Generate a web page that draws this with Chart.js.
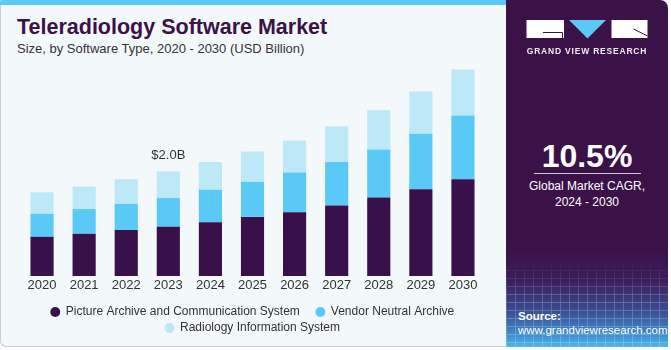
<!DOCTYPE html>
<html>
<head>
<meta charset="utf-8">
<script src="https://cdn.jsdelivr.net/npm/chart.js@4.4.1/dist/chart.umd.min.js"></script>
<style>
  html, body { margin:0; padding:0; background:#ffffff; }
  body { width:671px; height:350px; position:relative; overflow:hidden; font-family:"Liberation Sans", Arial, sans-serif; }
  #left { position:absolute; left:0; top:0; width:512px; height:346px; background:#f3f8fb;
          border-left:1px solid #c9cfd4; border-bottom:1px solid #c9cfd4; border-bottom-left-radius:6px; box-sizing:content-box; }
  #stripe { position:absolute; left:0; top:0; width:508px; height:5px; background:#5bc8f5; border-top-left-radius:3px; }
  #title { position:absolute; left:17px; top:17px; font-weight:bold; font-size:21.5px; line-height:1; color:#3a1248; white-space:nowrap; }
  #sub { position:absolute; left:17px; top:42px; font-size:13px; line-height:1; color:#333333; white-space:nowrap; }
  #chartWrap { position:absolute; left:0; top:0; width:506px; height:350px; }
  #panel { position:absolute; left:506px; top:0; width:162px; height:347px; border-top-right-radius:8px; overflow:hidden;
    background: linear-gradient(to bottom, #3a1248 0px, #3a1248 250px, #3b1d5c 280px, #3a4f93 312px, #3f8fcf 335px, #4fb6e6 347px); }
  #mesh { position:absolute; left:0; top:262px; width:162px; height:85px; opacity:0.28;
    background:
      repeating-linear-gradient(to bottom, rgba(255,255,255,0.7) 0px, rgba(255,255,255,0.7) 1px, transparent 1px, transparent 8px),
      repeating-linear-gradient(to right, rgba(255,255,255,0.7) 0px, rgba(255,255,255,0.7) 1px, transparent 1px, transparent 9px);
    -webkit-mask-image: linear-gradient(to bottom, transparent 0%, #000 40%);
    mask-image: linear-gradient(to bottom, transparent 0%, #000 40%); }
  #logo { position:absolute; left:20px; top:20px; }
  #gvr { position:absolute; left:0; width:162px; top:47px; text-align:center; color:#ffffff; font-weight:bold; font-size:8.5px; letter-spacing:0.8px; line-height:1; opacity:0.92; }
  #cagr { position:absolute; left:0; width:162px; top:140px; text-align:center; color:#ffffff; font-weight:bold; font-size:32px; line-height:1; }
  #rule { position:absolute; left:28px; width:107px; top:173px; height:1px; background:rgba(255,255,255,0.75); }
  #cagrTxt { position:absolute; left:0; width:162px; top:179px; text-align:center; color:#ffffff; font-size:12px; line-height:15.5px; }
  #src { position:absolute; left:12px; top:309px; color:#ffffff; font-size:11.5px; line-height:14px; }
</style>
</head>
<body>
<div id="left"></div>
<div id="stripe"></div>
<div id="title">Teleradiology Software Market</div>
<div id="sub">Size, by Software Type, 2020 - 2030 (USD Billion)</div>
<div id="chartWrap"><canvas id="c" width="506" height="350"></canvas></div>
<div id="panel">
  <div id="mesh"></div>
  <svg id="logo" width="124" height="20" viewBox="0 0 124 20">
    <rect x="0.5" y="0" width="37.5" height="18" fill="#ffffff"/>
    <path d="M17 12.5 H36.5 V18" stroke="#3a1248" stroke-width="1" fill="none"/>
    <polygon points="43,0 80,0 61.5,18.5" fill="#5bc8f5"/>
    <rect x="85.5" y="0" width="36" height="18" fill="#ffffff"/>
    <line x1="107.5" y1="9" x2="121.5" y2="16" stroke="#3a1248" stroke-width="1"/>
  </svg>
  <div id="gvr">GRAND VIEW RESEARCH</div>
  <div id="cagr">10.5%</div>
  <div id="rule"></div>
  <div id="cagrTxt">Global Market CAGR,<br>2024 - 2030</div>
  <div id="src"><b>Source:</b><br>www.grandviewresearch.com</div>
</div>
<script>
const years = ['2020','2021','2022','2023','2024','2025','2026','2027','2028','2029','2030'];
const seriesNames = ['Picture Archive and Communication System', 'Vendor Neutral Archive', 'Radiology Information System'];
const pacs = [0.75, 0.81, 0.88, 0.94, 1.03, 1.13, 1.22, 1.35, 1.50, 1.66, 1.85];
const vna  = [0.44, 0.47, 0.50, 0.55, 0.62, 0.67, 0.76, 0.83, 0.92, 1.06, 1.22];
const ris  = [0.41, 0.43, 0.47, 0.51, 0.53, 0.58, 0.61, 0.68, 0.75, 0.81, 0.88];
const annotatedYear = '2023';
const annotatedText = '$2.0B';
const colors = ['#38104a', '#5bc9f5', '#bde8f8'];

const annotatePlugin = {
  id: 'annotate',
  afterDatasetsDraw(chart) {
    const idx = years.indexOf(annotatedYear);
    const meta = chart.getDatasetMeta(2);
    const el = meta.data[idx];
    if (!el) return;
    const ctx = chart.ctx;
    ctx.save();
    ctx.font = '13px "Liberation Sans", Arial, sans-serif';
    ctx.fillStyle = '#333333';
    ctx.textAlign = 'center';
    ctx.textBaseline = 'middle';
    ctx.fillText(annotatedText, el.x, el.y - 16);
    ctx.restore();
  }
};

new Chart(document.getElementById('c'), {
  type: 'bar',
  data: {
    labels: years,
    datasets: [
      { label: seriesNames[0], data: pacs, backgroundColor: colors[0], borderWidth: 0 },
      { label: seriesNames[1], data: vna,  backgroundColor: colors[1], borderWidth: 0 },
      { label: seriesNames[2], data: ris,  backgroundColor: colors[2], borderWidth: 0 }
    ]
  },
  options: {
    responsive: false,
    animation: false,
    devicePixelRatio: 1,
    layout: { padding: { top: 60, left: 21, right: 22, bottom: 6 } },
    datasets: { bar: { categoryPercentage: 1, barPercentage: 0.55 } },
    scales: {
      x: {
        stacked: true,
        grid: { display: false, drawTicks: false },
        border: { display: false },
        ticks: { color: '#333333', font: { family: '"Liberation Sans", Arial, sans-serif', size: 13 }, padding: 2, maxRotation: 0, autoSkip: false },
        afterFit(scale) { scale.height = 26; }
      },
      y: { stacked: true, display: false, min: 0, max: 4.13 }
    },
    plugins: {
      tooltip: { enabled: false },
      legend: {
        position: 'bottom',
        labels: {
          usePointStyle: true,
          pointStyle: 'circle',
          boxWidth: 9,
          boxHeight: 7,
          padding: 4,
          color: '#333333',
          font: { family: '"Liberation Sans", Arial, sans-serif', size: 12 },
          generateLabels(chart) {
            const items = Chart.defaults.plugins.legend.labels.generateLabels(chart);
            items.forEach((it, i) => { it.lineWidth = 0; if (i === 0) it.text = it.text + '\u2002\u2002'; });
            return items;
          }
        }
      }
    }
  },
  plugins: [annotatePlugin]
});
</script>
</body>
</html>
